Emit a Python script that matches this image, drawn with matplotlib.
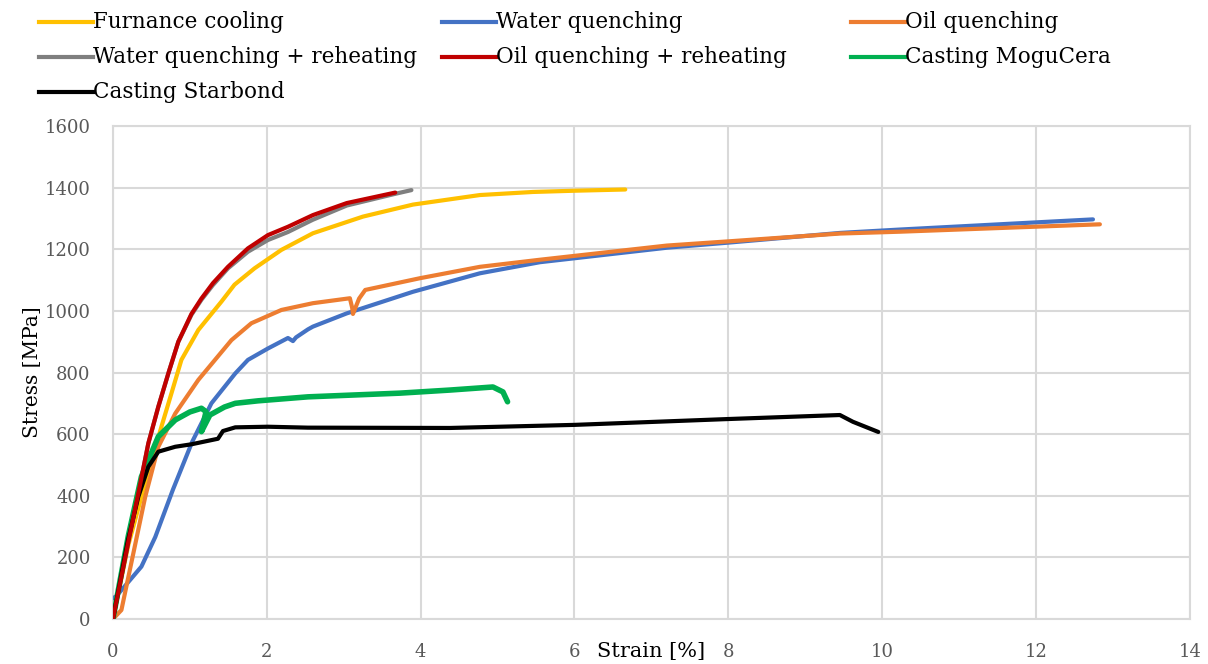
import matplotlib
matplotlib.use("Agg")
import matplotlib.pyplot as plt
from matplotlib.lines import Line2D

plt.rcParams['font.family'] = ['DejaVu Serif']

# Data (strain [%], stress [MPa])
furnace_x = [0.0, 0.2, 0.45, 0.63, 0.76, 0.89, 1.11, 1.41, 1.58, 1.84, 2.19, 2.6, 3.25, 3.9, 4.77, 5.46, 6.0, 6.66]
furnace_y = [0, 240, 470, 624, 732, 841, 938, 1030, 1085, 1138, 1198, 1252, 1306, 1345, 1376, 1386, 1390, 1394]

water_x = [0.0, 0.02, 0.2, 0.37, 0.55, 0.78, 1.03, 1.28, 1.59, 1.755, 2.015, 2.275, 2.34, 2.38, 2.535, 2.6, 3.04, 3.9, 4.77, 5.55, 7.2, 8.02, 9.45, 10.23, 12.74]
water_y = [70, 67, 120, 170, 266, 420, 575, 700, 797, 841, 878, 912, 902, 914, 940, 949, 992, 1062, 1122, 1158, 1205, 1222, 1253, 1264, 1297]

oil_x = [0.0, 0.11, 0.42, 0.59, 0.81, 1.11, 1.54, 1.80, 2.19, 2.6, 3.08, 3.11, 3.12, 3.2, 3.28, 3.99, 4.77, 5.55, 7.2, 8.02, 9.45, 10.23, 12.83]
oil_y = [0, 29, 397, 559, 667, 776, 905, 960, 1003, 1025, 1041, 1010, 990, 1040, 1068, 1106, 1143, 1166, 1212, 1226, 1251, 1257, 1281]

water_rh_x = [0.0, 0.2, 0.33, 0.46, 0.59, 0.72, 0.85, 1.02, 1.15, 1.3, 1.495, 1.755, 2.015, 2.275, 2.6, 3.04, 3.67, 3.88]
water_rh_y = [0, 250, 408, 570, 689, 797, 900, 987, 1036, 1084, 1138, 1192, 1230, 1256, 1296, 1342, 1380, 1392]

oil_rh_x = [0.0, 0.2, 0.33, 0.46, 0.59, 0.72, 0.85, 1.02, 1.15, 1.3, 1.495, 1.755, 2.015, 2.275, 2.6, 3.04, 3.67]
oil_rh_y = [0, 250, 408, 570, 689, 797, 900, 990, 1040, 1090, 1143, 1203, 1246, 1273, 1311, 1350, 1384]

mogu_x = [0.0, 0.2, 0.37, 0.59, 0.81, 1.0, 1.15, 1.21, 1.15, 1.26, 1.45, 1.59, 1.885, 2.535, 3.73, 4.38, 4.94, 5.07, 5.13]
mogu_y = [0, 270, 462, 592, 646, 672, 684, 673, 608, 662, 688, 700, 708, 721, 733, 743, 753, 737, 705]

star_x = [0.0, 0.195, 0.33, 0.46, 0.59, 0.81, 1.02, 1.365, 1.43, 1.59, 2.015, 2.535, 4.38, 6.0, 8.0, 9.45, 9.62, 9.95]
star_y = [0, 256, 397, 494, 543, 559, 567, 585, 610, 622, 624, 621, 620, 630, 649, 662, 640, 607]

labels = ['Furnance cooling', 'Water quenching', 'Oil quenching',
          'Water quenching + reheating', 'Oil quenching + reheating', 'Casting MoguCera',
          'Casting Starbond']
colors = ['#FFC000', '#4472C4', '#ED7D31', '#7F7F7F', '#C00000', '#00B050', '#000000']

series = [(furnace_x, furnace_y), (water_x, water_y), (oil_x, oil_y),
          (water_rh_x, water_rh_y), (oil_rh_x, oil_rh_y), (mogu_x, mogu_y),
          (star_x, star_y)]

W, H = 1208, 664
fig = plt.figure(figsize=(W / 100, H / 100), dpi=100)
ax = fig.add_axes([0.0935, 0.0678, 0.8915, 0.7424])

for i, (x, y) in enumerate(series):
    lw = 4.0 if i == 5 else 3.0
    ax.plot(x, y, color=colors[i], lw=lw, solid_capstyle='round',
            solid_joinstyle='round', zorder=3 + (1 if i == 4 else 0))

ax.set_xlim(0, 14)
ax.set_ylim(0, 1600)
ax.set_xticks(range(0, 15, 2))
ax.set_yticks(range(0, 1601, 200))
ax.grid(True, color='#D9D9D9', lw=1.5)
ax.set_axisbelow(True)
for s in ax.spines.values():
    s.set_color('#D9D9D9')
    s.set_linewidth(1.5)
ax.tick_params(length=0, labelsize=13, labelcolor='#595959')
ax.tick_params(axis='y', pad=16)
ax.tick_params(axis='x', pad=17)

ax.text(7.0, -105, 'Strain [%]', fontsize=15, color='black', ha='center', va='center')
ax.set_ylabel('Stress [MPa]', fontsize=14.5, labelpad=2)

# legend laid out in rows of three (figure pixel positions)
col_text_x = [93, 496, 905]
row_y = [22, 57, 92]
handle_len = 54
for k, lab in enumerate(labels):
    r, c = divmod(k, 3)
    tx = col_text_x[c]
    ty = row_y[r]
    fig.add_artist(Line2D([(tx - handle_len) / W, tx / W], [1 - ty / H, 1 - ty / H],
                          color=colors[k], lw=3, transform=fig.transFigure))
    fig.text(tx / W, 1 - ty / H, lab, fontsize=15.5, ha='left', va='center')

fig.savefig('out.png', dpi=100)
